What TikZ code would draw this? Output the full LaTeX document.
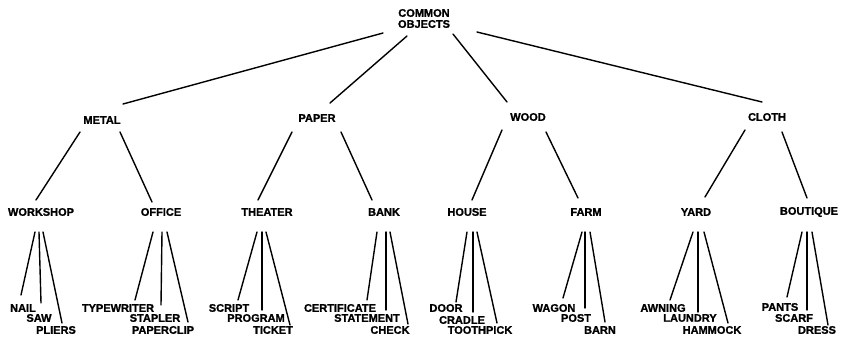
\documentclass[tikz,border=0pt]{standalone}
\usepackage{fontspec}
\setmainfont{Liberation Sans}[BoldFeatures={FakeBold=1.2}]
\begin{document}
\begin{tikzpicture}[x=1pt,y=-1pt,
  lbl/.style={inner sep=0pt,font=\fontsize{11}{11}\selectfont\bfseries,align=center},
  conn/.style={line width=1.4pt,line cap=round}]
\useasboundingbox (0,0) rectangle (841,341);
% root
\node[lbl] (root) at (424,18.5) {COMMON\\OBJECTS};
% level 1
\node[lbl] (metal) at (102,120) {METAL};
\node[lbl] (paper) at (317,118) {PAPER};
\node[lbl] (wood)  at (528,117) {WOOD};
\node[lbl] (cloth) at (767,117) {CLOTH};
% level 2
\node[lbl] (workshop) at (41,212)  {WORKSHOP};
\node[lbl] (office)   at (161,212) {OFFICE};
\node[lbl] (theater)  at (267,212) {THEATER};
\node[lbl] (bank)     at (384,212) {BANK};
\node[lbl] (house)    at (467,212) {HOUSE};
\node[lbl] (farm)     at (586,212) {FARM};
\node[lbl] (yard)     at (696,212) {YARD};
\node[lbl] (boutique) at (809,212) {BOUTIQUE};
% leaves
\node[lbl] (nail)    at (23,308)  {NAIL};
\node[lbl] (saw)     at (39,318)  {SAW};
\node[lbl] (pliers)  at (56,330)  {PLIERS};
\node[lbl] (typewriter) at (118,308) {TYPEWRITER};
\node[lbl] (stapler)    at (155,318) {STAPLER};
\node[lbl] (paperclip)  at (163,330) {PAPERCLIP};
\node[lbl] (script)  at (229,308) {SCRIPT};
\node[lbl] (program) at (256,318) {PROGRAM};
\node[lbl] (ticket)  at (273,330) {TICKET};
\node[lbl] (certificate) at (340,308) {CERTIFICATE};
\node[lbl] (statement)   at (367,318) {STATEMENT};
\node[lbl] (check)       at (390,330) {CHECK};
\node[lbl] (door)      at (446,308) {DOOR};
\node[lbl] (cradle)    at (462,320) {CRADLE};
\node[lbl] (toothpick) at (480,330) {TOOTHPICK};
\node[lbl] (wagon) at (554,308) {WAGON};
\node[lbl] (post)  at (576,318) {POST};
\node[lbl] (barn)  at (600,330) {BARN};
\node[lbl] (awning)  at (663,308) {AWNING};
\node[lbl] (laundry) at (690,318) {LAUNDRY};
\node[lbl] (hammock) at (712,330) {HAMMOCK};
\node[lbl] (pants) at (780,307) {PANTS};
\node[lbl] (scarf) at (794,318) {SCARF};
\node[lbl] (dress) at (817,330) {DRESS};
% connectors level 0-1
\draw[conn] ([shift={(-41,14.5)}]root.center) -- ([shift={(21,-16)}]metal.center);
\draw[conn] ([shift={(-17,17.5)}]root.center) -- ([shift={(13,-15)}]paper.center);
\draw[conn] ([shift={(29,15.5)}]root.center) -- ([shift={(-21,-15)}]wood.center);
\draw[conn] ([shift={(53,13.5)}]root.center) -- ([shift={(-5,-15)}]cloth.center);
% level 1-2
\draw[conn] ([shift={(-22,12)}]metal.center) -- ([shift={(-5,-12)}]workshop.center);
\draw[conn] ([shift={(18,12)}]metal.center) -- ([shift={(-9,-10)}]office.center);
\draw[conn] ([shift={(-25,14)}]paper.center) -- ([shift={(-9,-12)}]theater.center);
\draw[conn] ([shift={(24,14)}]paper.center) -- ([shift={(-12,-12)}]bank.center);
\draw[conn] ([shift={(-26,13)}]wood.center) -- ([shift={(5,-12)}]house.center);
\draw[conn] ([shift={(18,15)}]wood.center) -- ([shift={(-8,-14)}]farm.center);
\draw[conn] ([shift={(-22,13)}]cloth.center) -- ([shift={(9,-15)}]yard.center);
\draw[conn] ([shift={(15,15)}]cloth.center) -- ([shift={(-2,-14)}]boutique.center);
% level 2-3
\draw[conn] ([shift={(-6,20)}]workshop.center) -- ([shift={(-2,-13)}]nail.center);
\draw[conn] ([shift={(-2,20)}]workshop.center) -- ([shift={(2,-15)}]saw.center);
\draw[conn] ([shift={(2,20)}]workshop.center) -- ([shift={(6,-7)}]pliers.center);
\draw[conn] ([shift={(-8,20)}]office.center) -- ([shift={(17,-8)}]typewriter.center);
\draw[conn] ([shift={(1,20)}]office.center) -- ([shift={(6,-13)}]stapler.center);
\draw[conn] ([shift={(6,20)}]office.center) -- ([shift={(25,-8)}]paperclip.center);
\draw[conn] ([shift={(-10,20)}]theater.center) -- ([shift={(9,-8)}]script.center);
\draw[conn] ([shift={(-5,20)}]theater.center) -- ([shift={(6,-8)}]program.center);
\draw[conn] ([shift={(-1,20)}]theater.center) -- ([shift={(17,-5)}]ticket.center);
\draw[conn] ([shift={(-7,20)}]bank.center) -- ([shift={(27,-8)}]certificate.center);
\draw[conn] ([shift={(2,20)}]bank.center) -- ([shift={(19,-8)}]statement.center);
\draw[conn] ([shift={(6,20)}]bank.center) -- ([shift={(18,-6)}]check.center);
\draw[conn] ([shift={(0,20)}]house.center) -- ([shift={(10,-6)}]door.center);
\draw[conn] ([shift={(6,20)}]house.center) -- ([shift={(11,-8)}]cradle.center);
\draw[conn] ([shift={(10,20)}]house.center) -- ([shift={(17,-7)}]toothpick.center);
\draw[conn] ([shift={(-4,20)}]farm.center) -- ([shift={(9,-10)}]wagon.center);
\draw[conn] ([shift={(-1,20)}]farm.center) -- ([shift={(9,-10)}]post.center);
\draw[conn] ([shift={(4,20)}]farm.center) -- ([shift={(5,-8)}]barn.center);
\draw[conn] ([shift={(-3,20)}]yard.center) -- ([shift={(7,-8)}]awning.center);
\draw[conn] ([shift={(2,20)}]yard.center) -- ([shift={(8,-6)}]laundry.center);
\draw[conn] ([shift={(8,20)}]yard.center) -- ([shift={(16,-7)}]hammock.center);
\draw[conn] ([shift={(-7,20)}]boutique.center) -- ([shift={(7,-10)}]pants.center);
\draw[conn] ([shift={(-2,20)}]boutique.center) -- ([shift={(13,-8)}]scarf.center);
\draw[conn] ([shift={(3,20)}]boutique.center) -- ([shift={(11,-5)}]dress.center);
\end{tikzpicture}
\end{document}
